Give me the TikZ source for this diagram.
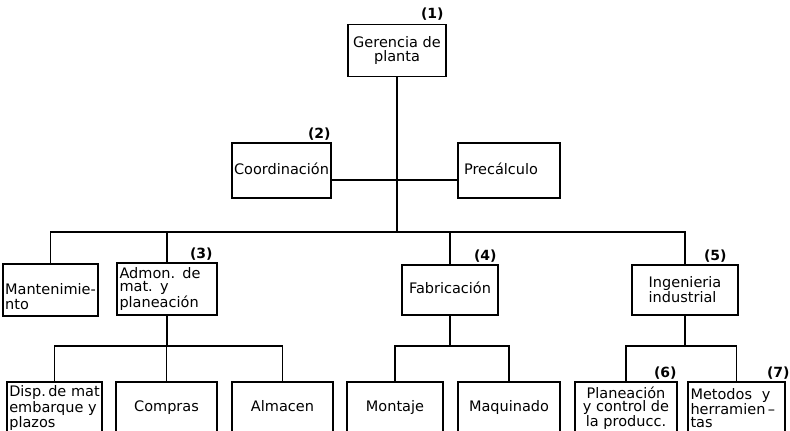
\documentclass[tikz,border=0pt]{standalone}
\usepackage{fontspec}
\setmainfont{DejaVu Sans}
\usepackage{tikz}
\usetikzlibrary{positioning}

\tikzset{
  box/.style={draw,line width=1.6pt,inner sep=2pt,minimum height=52pt,
    font=\fontsize{14.5}{14}\selectfont},
  one/.style={text height=10.5pt,text depth=3pt},
  num/.style={inner sep=1pt,anchor=south east,font=\fontsize{14}{14}\selectfont\bfseries},
  link/.style={line width=1.4pt}
}

\begin{document}
\begin{tikzpicture}[x=1pt,y=-1pt]
\clip (0,0) rectangle (790,431);
\fill[white] (0,0) rectangle (790,431);

\node[box,minimum width=98pt,align=center] (ger) at (397,50.5) {Gerencia de\\planta};
\node[box,one,minimum width=99pt,minimum height=55pt] (coord) at (281.5,170.5) {Coordinación};
\node[box,one,minimum width=102pt,minimum height=55pt,text width=90pt,align=left] (prec) at (509,170.5) {Precálculo};

\node[box,minimum width=95pt,align=left,font=\fontsize{14.5}{14.5}\selectfont] (mant) at (50.5,290) {\rule{0pt}{24pt}Mantenimie-\\nto\hspace*{58pt}};
\node[box,minimum width=100pt,text width=95pt,align=left,font=\fontsize{14.5}{13}\selectfont] (admon) at (167,289) {Admon. de\\mat. y\\planeación};
\node[box,one,minimum width=96pt,minimum height=50pt] (fab) at (450,290) {Fabricación};
\node[box,minimum width=106pt,minimum height=50pt,align=left] (ing) at (685,290) {Ingenieria\\industrial};

\node[box,minimum width=95pt,align=left,font=\fontsize{14.5}{13}\selectfont] (disp) at (54.5,408) {Disp.\,de mat\\embarque y\\plazos};
\node[box,one,minimum width=101pt] (comp) at (166.5,408) {Compras};
\node[box,one,minimum width=101pt] (alm) at (282.5,408) {Almacen};
\node[box,one,minimum width=96pt] (mont) at (395,408) {Montaje};
\node[box,one,minimum width=102pt] (maq) at (509,408) {Maquinado};
\node[box,minimum width=102pt,align=center,font=\fontsize{14.5}{13}\selectfont] (plan) at (626,408) {Planeación\\y control de\\la producc.};
\node[box,minimum width=97pt,text width=92pt,align=left,font=\fontsize{14.5}{13}\selectfont] (met) at (736.5,408) {Metodos~~y\\herramien\,–\\tas};

\node[num] (n1) at ([xshift=-2pt,yshift=2pt]ger.north east) {(1)};
\node[num] (n2) at ([xshift=0pt,yshift=1pt]coord.north east) {(2)};
\node[num] (n3) at ([xshift=-4pt,yshift=1pt]admon.north east) {(3)};
\node[num] (n4) at ([xshift=-1pt,yshift=1pt]fab.north east) {(4)};
\node[num] (n5) at ([xshift=-11pt,yshift=1pt]ing.north east) {(5)};
\node[num] (n6) at ([xshift=0pt,yshift=1pt]plan.north east) {(6)};
\node[num] (n7) at ([xshift=5pt,yshift=1pt]met.north east) {(7)};

\coordinate (bus2) at (397,232);
\coordinate (bus3a) at (167,346);
\coordinate (bus3b) at (450,346);
\coordinate (bus3c) at (685,346);

\draw[link] (ger) -- (bus2);
\draw[link] ([yshift=-9.5pt]coord.east) -- ([yshift=-9.5pt]prec.west);
\draw[link] (mant.north) |- (bus2) -| (ing.north);
\draw[link] (admon.north) -- (admon.north |- bus2);
\draw[link] (fab.north) -- (fab.north |- bus2);

\draw[link] (admon.south) -- (bus3a);
\draw[link] (disp.north) |- (bus3a) -| (alm.north);
\draw[link] (comp.north) -- (comp.north |- bus3a);

\draw[link] (fab.south) -- (bus3b);
\draw[link] (mont.north) |- (bus3b) -| (maq.north);

\draw[link] (ing.south) -- (bus3c);
\draw[link] (plan.north) |- (bus3c) -| (met.north);
\end{tikzpicture}
\end{document}
